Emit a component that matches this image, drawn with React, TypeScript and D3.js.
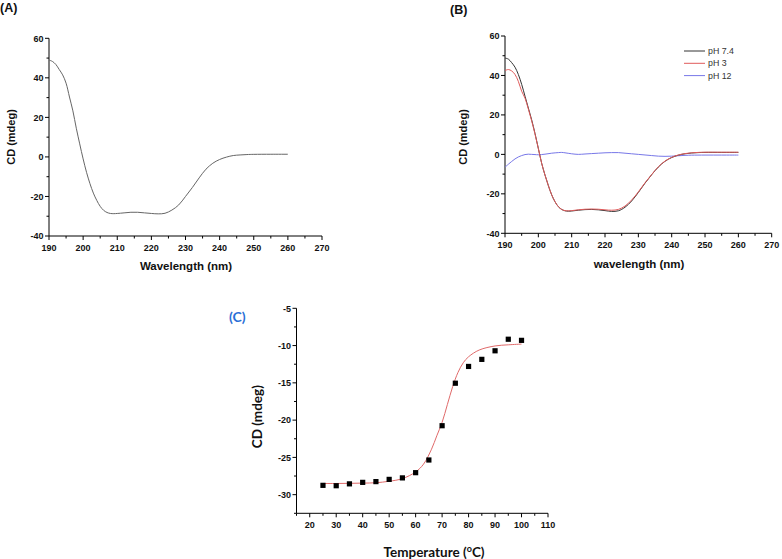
import React from "react";
import * as d3 from "d3";

// ---------- Data ----------
// Panel A: CD spectrum
const wlA = [190,191,192,193,194,195,196,197,198,199,200,201,202,203,204,205,206,207,208,209,210,212,214,216,218,220,222,224,226,228,230,232,234,236,238,240,242,244,246,248,250,255,260];
const cdA = [49,48.3,46.8,44.2,41.5,37.3,30.3,23.3,14.5,6.6,-1.0,-7.8,-13.5,-18.3,-22,-25,-27,-28.1,-28.6,-28.7,-28.6,-28.3,-28.0,-28.0,-28.3,-28.6,-28.8,-28.5,-26.9,-24.3,-20,-15.5,-10.6,-6.2,-3.2,-1.3,-0.1,0.7,1.0,1.2,1.3,1.35,1.35];

// Panel B: pH series
const wlB = [190,191,192,193,194,195,196,197,198,199,200,201,202,203,204,205,206,207,208,209,210,212,214,216,218,220,222,224,226,228,230,232,234,236,238,240,242,244,246,248,250,255,260];
const cdPH74 = [48.8,48.3,46.5,44.2,40.5,35.5,29.5,23.5,17.5,10.6,3.0,-4.5,-10.5,-15.8,-20.5,-24,-26.5,-27.9,-28.6,-28.8,-28.7,-28.3,-28,-27.9,-28.1,-28.5,-28.9,-28.6,-26.8,-23.6,-19.3,-14.6,-10.3,-6.4,-3.5,-1.6,-0.4,0.3,0.7,0.9,1.0,1.0,1.0];
const cdPH3 = [42.5,43,42.3,40.5,37,32,28.5,23,17,10.3,3.0,-4.5,-10.5,-15.8,-20.5,-24,-26.5,-27.9,-28.5,-28.6,-28.5,-28.1,-27.8,-27.7,-27.8,-28.1,-28.3,-27.9,-26.2,-23.1,-19,-14.4,-10.2,-6.3,-3.4,-1.5,-0.3,0.4,0.8,1.0,1.1,1.1,1.1];
const wlB12 = [190,191,192,193,194,195,196,197,198,199,200,202,204,206,207,208,210,212,214,216,218,220,222,224,226,228,230,232,234,236,238,240,242,244,246,250,255,260];
const cdPH12 = [-6.5,-5,-3.6,-2.3,-1.3,-0.6,-0.1,0.1,0,-0.1,-0.2,0.1,0.6,0.9,1.0,0.8,0.3,0.0,0.2,0.4,0.6,0.8,0.9,0.9,0.6,0.3,0.0,-0.3,-0.6,-0.9,-1.0,-0.9,-0.7,-0.5,-0.4,-0.35,-0.35,-0.35];
const legendLabels = ["pH 7.4", "pH 3", "pH 12"];

// Panel C: thermal melt
const tempC = [25,30,35,40,45,50,55,60,65,70,75,80,85,90,95,100];
const cdC = [-28.75,-28.8,-28.55,-28.35,-28.25,-27.95,-27.75,-27.05,-25.35,-20.75,-15.05,-12.8,-11.85,-10.7,-9.15,-9.3];
const fitT = [25,30,35,40,45,50,55,60,63,66,68,70,72,74,76,78,80,84,90,95,100];
const fitCD = [-28.5,-28.5,-28.48,-28.45,-28.4,-28.2,-27.85,-26.95,-25.9,-23.9,-22.1,-20.3,-17.9,-15.5,-13.6,-12.3,-11.5,-10.6,-10.05,-9.9,-9.8];

// Tick labels
const wlTicks = [190,200,210,220,230,240,250,260,270];
const wlMinor = [195,205,215,225,235,245,255,265];
const cdTicks = [-40,-20,0,20,40,60];
const cdMinor = [-30,-10,10,30,50];
const tTicks = [20,30,40,50,60,70,80,90,100,110];
const tMinor = [15,25,35,45,55,65,75,85,95,105];
const cTicks = [-30,-25,-20,-15,-10,-5];
const cMinor = [-32.5,-27.5,-22.5,-17.5,-12.5,-7.5];

const ARIAL = "'Liberation Sans', Arial, sans-serif";
const CAL = "Lato, 'Open Sans', sans-serif";

type AxProps = {
  x: d3.ScaleLinear<number, number>;
  y: d3.ScaleLinear<number, number>;
  xTicks: number[]; xMinor: number[]; yTicks: number[]; yMinor: number[];
  fs?: number;
};

function Axes({ x, y, xTicks, xMinor, yTicks, yMinor, fs = 9 }: AxProps) {
  const [x0, x1] = x.range();
  const [y0, y1] = y.range();
  return (
    <g stroke="#000" strokeWidth={1} fill="none">
      <line x1={x0} x2={x1} y1={y0} y2={y0} />
      <line x1={x0} x2={x0} y1={y0} y2={y1} />
      {xTicks.map((t) => (
        <g key={"xt" + t}>
          <line x1={x(t)} x2={x(t)} y1={y0} y2={y0 + 4} />
          <text x={x(t)} y={y0 + 14.5} textAnchor="middle" fill="#111" stroke="none"
            fontFamily={ARIAL} fontWeight="bold" fontSize={fs}>{t}</text>
        </g>
      ))}
      {xMinor.map((t) => (
        <line key={"xm" + t} x1={x(t)} x2={x(t)} y1={y0} y2={y0 + 2.5} />
      ))}
      {yTicks.map((t) => (
        <g key={"yt" + t}>
          <line x1={x0 - 4} x2={x0} y1={y(t)} y2={y(t)} />
          <text x={x0 - 5.5} y={y(t) + 3.3} textAnchor="end" fill="#111" stroke="none"
            fontFamily={ARIAL} fontWeight="bold" fontSize={fs}>{t}</text>
        </g>
      ))}
      {yMinor.map((t) => (
        <line key={"ym" + t} x1={x0 - 2.5} x2={x0} y1={y(t)} y2={y(t)} />
      ))}
    </g>
  );
}

export default function App() {
  // Panel A
  const xA = d3.scaleLinear().domain([190, 270]).range([49, 322]);
  const yA = d3.scaleLinear().domain([-40, 60]).range([236, 38.3]);
  // Panel B
  const xB = d3.scaleLinear().domain([190, 270]).range([505, 771.7]);
  const yB = d3.scaleLinear().domain([-40, 60]).range([233.3, 36]);
  // Panel C
  const xC = d3.scaleLinear().domain([15, 110]).range([296.5, 548]);
  const yC = d3.scaleLinear().domain([-32.5, -5]).range([513.3, 308.3]);

  const lineOf = (xs: number[], ys: number[], sx: any, sy: any) =>
    d3.line<number>().x((_, i) => sx(xs[i])).y((d) => sy(d)).curve(d3.curveCatmullRom.alpha(0.5))(ys) || "";

  const legendColors = ["#333333", "#e05a5a", "#7878e8"];

  return (
    <svg width={782} height={559} style={{ position: "absolute", left: 0, top: 0, background: "#fff" }}>
      <rect width={782} height={559} fill="#fff" />
      {/* Panel A */}
      <text x={0} y={12} fontFamily={ARIAL} fontWeight="bold" fontSize={12.5} fill="#111">(A)</text>
      <Axes x={xA} y={yA} xTicks={wlTicks} xMinor={wlMinor} yTicks={cdTicks} yMinor={cdMinor} />
      <path d={lineOf(wlA, cdA, xA, yA)} fill="none" stroke="#666" strokeWidth={1} />
      <text x={186} y={270} textAnchor="middle" fontFamily={ARIAL} fontWeight="bold" fontSize={11.5} fill="#111">Wavelength (nm)</text>
      <text transform="translate(14.5,137) rotate(-90)" textAnchor="middle" fontFamily={ARIAL} fontWeight="bold" fontSize={11} fill="#111">CD (mdeg)</text>

      {/* Panel B */}
      <text x={450} y={13.5} fontFamily={ARIAL} fontWeight="bold" fontSize={12.5} fill="#111">(B)</text>
      <Axes x={xB} y={yB} xTicks={wlTicks} xMinor={wlMinor} yTicks={cdTicks} yMinor={cdMinor} />
      <path d={lineOf(wlB12, cdPH12, xB, yB)} fill="none" stroke={legendColors[2]} strokeWidth={1} />
      <path d={lineOf(wlB, cdPH74, xB, yB)} fill="none" stroke={legendColors[0]} strokeWidth={1} />
      <path d={lineOf(wlB, cdPH3, xB, yB)} fill="none" stroke={legendColors[1]} strokeWidth={1} />
      <text x={639} y={268} textAnchor="middle" fontFamily={ARIAL} fontWeight="bold" fontSize={11.5} fill="#111">wavelength (nm)</text>
      <text transform="translate(467,137) rotate(-90)" textAnchor="middle" fontFamily={ARIAL} fontWeight="bold" fontSize={11} fill="#111">CD (mdeg)</text>
      {legendLabels.map((lab, i) => (
        <g key={lab}>
          <line x1={684} x2={705} y1={51 + i * 12.3} y2={51 + i * 12.3} stroke={legendColors[i]} strokeWidth={1} />
          <text x={708} y={54 + i * 12.3} fontFamily={ARIAL} fontSize={8.8} fill="#333">{lab}</text>
        </g>
      ))}

      {/* Panel C */}
      <text x={229} y={322} fontFamily={CAL} fontWeight="bold" fontSize={14} fill="#2b6fd6">(C)</text>
      <Axes x={xC} y={yC} xTicks={tTicks} xMinor={tMinor} yTicks={cTicks} yMinor={cMinor} />
      <path d={lineOf(fitT, fitCD, xC, yC)} fill="none" stroke="#e06a6a" strokeWidth={1} />
      {tempC.map((t, i) => (
        <rect key={t} x={xC(t) - 2.6} y={yC(cdC[i]) - 2.6} width={5.2} height={5.2} fill="#000" />
      ))}
      <text x={434} y={557} textAnchor="middle" fontFamily={CAL} fontWeight="bold" fontSize={13.5} fill="#111">
        Temperature (<tspan fontSize={9} dy={-5}>o</tspan><tspan dy={5}>C)</tspan>
      </text>
      <text transform="translate(262,416.7) rotate(-90)" textAnchor="middle" fontFamily={CAL} fontWeight="bold" fontSize={13.5} fill="#111">CD (mdeg)</text>
    </svg>
  );
}
